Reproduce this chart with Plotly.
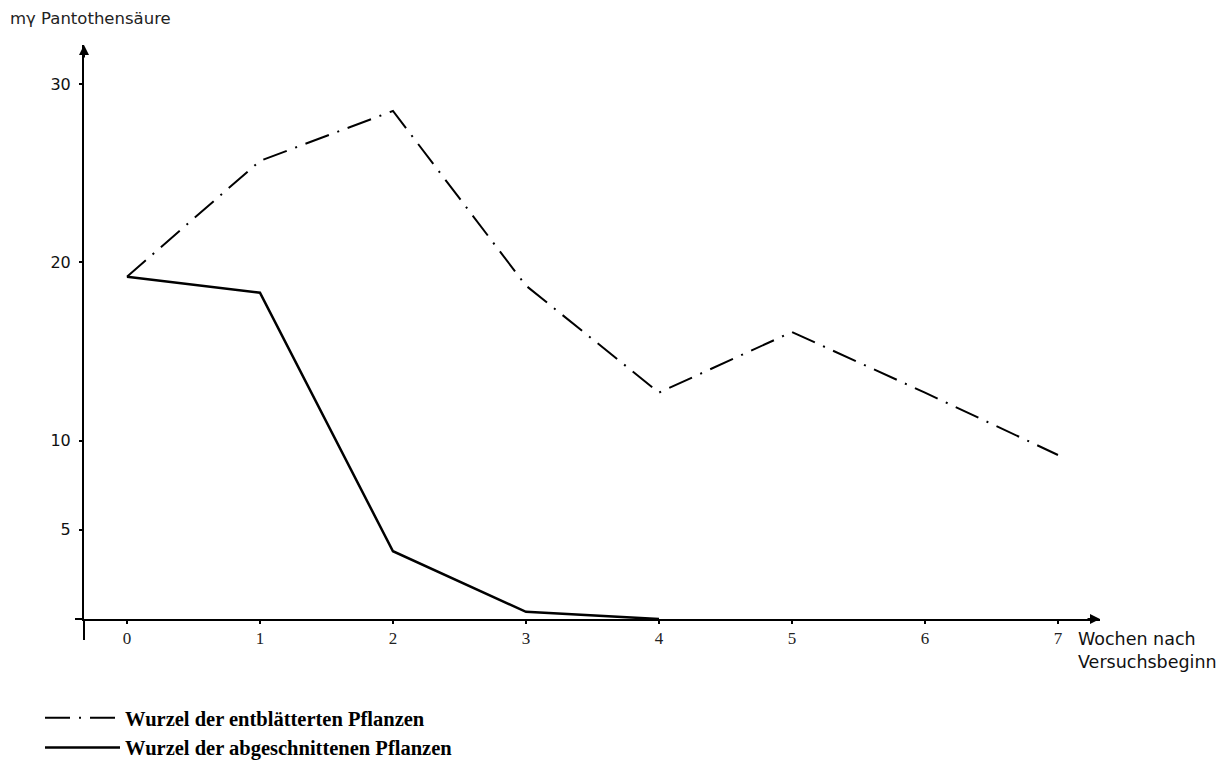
import plotly.graph_objects as go

weeks = [0, 1, 2, 3, 4, 5, 6, 7]
entblaettert = [19.2, 25.7, 28.5, 18.7, 12.7, 16.1, 12.7, 9.2]
weeks_cut = [0, 1, 2, 3, 4]
abgeschnitten = [19.2, 18.3, 3.8, 0.4, 0.0]

x_ticks = [0, 1, 2, 3, 4, 5, 6, 7]
y_ticks = [5, 10, 20, 30]

name_a = "Wurzel der entblätterten Pflanzen"
name_b = "Wurzel der abgeschnittenen Pflanzen"

fig = go.Figure()
fig.add_trace(go.Scatter(
    x=weeks, y=entblaettert, mode="lines", name=name_a,
    line=dict(color="black", width=2, dash="25px,9px,2px,9px"),
    cliponaxis=False,
))
fig.add_trace(go.Scatter(
    x=weeks_cut, y=abgeschnitten, mode="lines", name=name_b,
    line=dict(color="black", width=2.5),
    cliponaxis=False,
))

OFF = 8  # page body margin
W, H = 1225 - OFF, 769 - OFF
L, T = 84 - OFF, 45 - OFF
R = W - (1100 - OFF)
B = H - (619 - OFF)
pw = W - L - R
ph = H - T - B

fig.update_layout(
    width=W, height=H,
    margin=dict(l=L, r=R, t=T, b=B, pad=0, autoexpand=False),
    paper_bgcolor="white", plot_bgcolor="white",
    showlegend=True,
    legend=dict(
        x=-44 / pw, y=-79 / ph, xanchor="left", yanchor="top",
        font=dict(family="Liberation Serif", size=20.5, color="black", weight="bold"),
        itemwidth=75, tracegroupgap=0, bgcolor="rgba(0,0,0,0)",
    ),
    xaxis=dict(
        range=[-0.323, 7.316], showgrid=False, zeroline=False,
        showline=True, linecolor="black", linewidth=2,
        tickvals=x_ticks, ticktext=[str(v) for v in x_ticks],
        ticks="outside", ticklen=3, tickwidth=1.5, tickcolor="black",
        tickfont=dict(family="Liberation Serif", size=17, color="#222"),
        ticklabelstandoff=0,
    ),
    yaxis=dict(
        range=[0, 32.2], showgrid=False, zeroline=False,
        showline=True, linecolor="black", linewidth=2,
        tickvals=y_ticks, ticktext=[str(v) for v in y_ticks],
        ticks="outside", ticklen=3, tickwidth=1.5, tickcolor="black",
        tickfont=dict(family="DejaVu Sans", size=16, color="#111"),
        ticklabelstandoff=5,
    ),
)

# axis extensions beyond the crossing point
fig.add_shape(type="line", xref="paper", yref="paper",
              x0=-9 / pw, x1=0, y0=0, y1=0,
              line=dict(color="black", width=2))
fig.add_shape(type="line", xref="paper", yref="paper",
              x0=0, x1=0, y0=-21 / ph, y1=0,
              line=dict(color="black", width=2))

# arrow heads
fig.add_annotation(xref="paper", yref="paper", x=0, y=1, ax=0, ay=14,
                   axref="pixel", ayref="pixel", text="", showarrow=True,
                   arrowhead=2, arrowsize=1, arrowwidth=2, arrowcolor="black")
fig.add_annotation(xref="paper", yref="paper", x=1, y=0, ax=-14, ay=0,
                   axref="pixel", ayref="pixel", text="", showarrow=True,
                   arrowhead=2, arrowsize=1, arrowwidth=2, arrowcolor="black")

# axis titles
fig.add_annotation(xref="paper", yref="paper", x=-76 / pw, y=1 + 27 / ph,
                   xanchor="left", yanchor="middle", showarrow=False,
                   text="mγ Pantothensäure",
                   font=dict(family="DejaVu Sans", size=16.5, color="#222"))
fig.add_annotation(xref="paper", yref="paper", x=(1076 - 84) / pw, y=-31 / ph,
                   xanchor="left", yanchor="middle", showarrow=False, align="left",
                   text="Wochen nach<br>Versuchsbeginn",
                   font=dict(family="DejaVu Sans", size=17.5, color="#111"))

fig.write_html("out.html")
